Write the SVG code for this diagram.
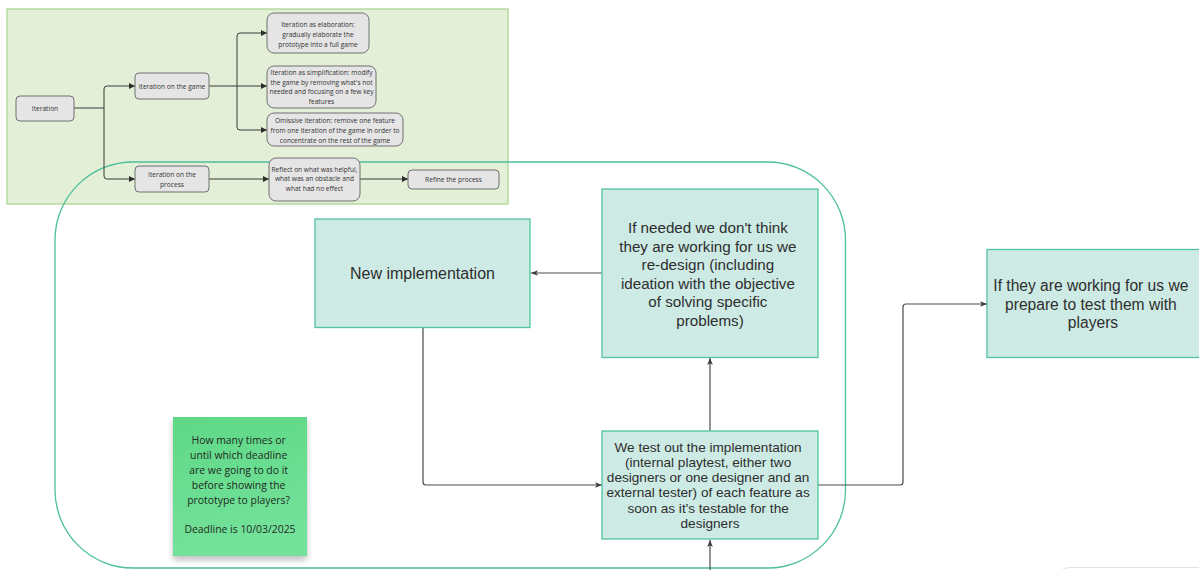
<svg xmlns="http://www.w3.org/2000/svg" width="1199" height="570" viewBox="0 0 1199 570">
  <style>
    .panel { fill: #e4efd7; stroke: #a8d28c; stroke-width: 1.2; }
    .loop { fill: none; stroke: #4cbf9c; stroke-width: 1.3; }
    .pnode { fill: #e5e5e5; stroke: #707070; stroke-width: 1; }
    .ptext { font-family: "Open Sans", "Noto Sans", sans-serif; font-size: 6.6px; fill: #333; text-anchor: middle; }
    .pline { fill: none; stroke: #3a3a3a; stroke-width: 1; }
    .box { fill: #cdeae4; stroke: #52c3a3; stroke-width: 1.3; }
    .btext { font-family: "Liberation Sans", Arial, sans-serif; fill: #2e2e2e; text-anchor: middle; }
    .mline { fill: none; stroke: #4a4a4a; stroke-width: 1.2; }
    .sticky-text { font-family: "Open Sans", "Noto Sans", sans-serif; font-size: 10.4px; fill: #1f2a22; text-anchor: middle; }
  </style>
  <defs>
    <marker id="parrow" viewBox="0 0 10 10" refX="10" refY="5" markerWidth="6" markerHeight="6" markerUnits="userSpaceOnUse" orient="auto">
      <path d="M0,0 L10,5 L0,10 z" fill="#2e2e2e"/>
    </marker>
    <marker id="marrow" viewBox="0 0 10 10" refX="10" refY="5" markerWidth="7" markerHeight="7" markerUnits="userSpaceOnUse" orient="auto">
      <path d="M0,1 L10,5 L0,9 L2.5,5 z" fill="#3a3a3a"/>
    </marker>
    <linearGradient id="stickyFill" x1="0" y1="0" x2="0.2" y2="1">
      <stop offset="0" stop-color="#5fd886"/>
      <stop offset="1" stop-color="#74e29b"/>
    </linearGradient>
    <filter id="stickyShadow" x="-20%" y="-20%" width="140%" height="150%">
      <feGaussianBlur in="SourceAlpha" stdDeviation="3"/>
      <feOffset dx="0" dy="4" result="b"/>
      <feComponentTransfer><feFuncA type="linear" slope="0.25"/></feComponentTransfer>
      <feMerge><feMergeNode/><feMergeNode in="SourceGraphic"/></feMerge>
    </filter>
  </defs>

  <rect width="1199" height="570" fill="#ffffff"/>

  <!-- iteration overview panel -->
  <rect id="iteration-panel" class="panel" x="7" y="9" width="501" height="195"/>

  <!-- iteration loop frame -->
  <rect id="iteration-loop" class="loop" x="55" y="162" width="790.5" height="406" rx="78" ry="78"/>

  <!-- faint edge of a shape at the bottom right -->
  <path d="M1063,569 Q1066,567.5 1072,567.5 H1199" fill="none" stroke="#e2e2e2" stroke-width="1"/>

  <!-- connectors -->
  <g id="connectors">
    <!-- panel -->
    <path class="pline" d="M74,108 H104 V89 Q104,86 107,86 H135" marker-end="url(#parrow)"/>
    <path class="pline" d="M104,108 V176 Q104,179 107,179 H135" marker-end="url(#parrow)"/>
    <path class="pline" d="M209,86 H237 V36 Q237,33 240,33 H267" marker-end="url(#parrow)"/>
    <path class="pline" d="M237,86 H267" marker-end="url(#parrow)"/>
    <path class="pline" d="M237,86 V127 Q237,130 240,130 H267" marker-end="url(#parrow)"/>
    <path class="pline" d="M209,179 H269" marker-end="url(#parrow)"/>
    <path class="pline" d="M360,179 H408" marker-end="url(#parrow)"/>
    <!-- main loop -->
    <path class="mline" d="M602,273 H531" marker-end="url(#marrow)"/>
    <path class="mline" d="M423,328 V482 Q423,485 426,485 H602" marker-end="url(#marrow)"/>
    <path class="mline" d="M710,431 V358" marker-end="url(#marrow)"/>
    <path class="mline" d="M710,570 V540" marker-end="url(#marrow)"/>
    <path class="mline" d="M818,485 H900 Q903,485 903,482 V307 Q903,304 906,304 H987" marker-end="url(#marrow)"/>
  </g>

  <!-- panel nodes -->
  <g id="iteration">
    <rect class="pnode" x="16" y="96" width="58" height="25" rx="4"/>
    <text class="ptext" x="45" y="110.5">Iteration</text>
  </g>
  <g id="iteration-game">
    <rect class="pnode" x="135" y="73" width="74" height="26" rx="4"/>
    <text class="ptext" x="172" y="88.5">Iteration on the game</text>
  </g>
  <g id="iteration-process">
    <rect class="pnode" x="135" y="166" width="74" height="26" rx="4"/>
    <text class="ptext" x="172" y="177">Iteration on the</text>
    <text class="ptext" x="172" y="186.5">process</text>
  </g>
  <g id="elaboration">
    <rect class="pnode" x="267" y="13" width="102" height="40" rx="7"/>
    <text class="ptext" x="318" y="26.5">Iteration as elaboration:</text>
    <text class="ptext" x="318" y="36.5">gradually elaborate the</text>
    <text class="ptext" x="318" y="46.5">prototype into a full game</text>
  </g>
  <g id="simplification">
    <rect class="pnode" x="267" y="66" width="109" height="42" rx="7"/>
    <text class="ptext" x="321.5" y="75">Iteration as simplification: modify</text>
    <text class="ptext" x="321.5" y="84.5">the game by removing what's not</text>
    <text class="ptext" x="321.5" y="94">needed and focusing on a few key</text>
    <text class="ptext" x="321.5" y="103.5">features</text>
  </g>
  <g id="omissive">
    <rect class="pnode" x="267" y="113" width="136" height="33" rx="7"/>
    <text class="ptext" x="335" y="122.5">Omissive iteration: remove one feature</text>
    <text class="ptext" x="335" y="132.5">from one iteration of the game in order to</text>
    <text class="ptext" x="335" y="142.5">concentrate on the rest of the game</text>
  </g>
  <g id="reflect">
    <rect class="pnode" x="269" y="158" width="91" height="43" rx="7"/>
    <text class="ptext" x="314.5" y="171.5">Reflect on what was helpful,</text>
    <text class="ptext" x="314.5" y="181">what was an obstacle and</text>
    <text class="ptext" x="314.5" y="190.5">what had no effect</text>
  </g>
  <g id="refine">
    <rect class="pnode" x="408" y="170" width="91" height="19" rx="4"/>
    <text class="ptext" x="453.5" y="181.5">Refine the process</text>
  </g>

  <!-- main loop nodes -->
  <g id="new-implementation">
    <rect class="box" x="315" y="219" width="215" height="108.5"/>
    <text class="btext" x="422.5" y="279" font-size="16">New implementation</text>
  </g>
  <g id="redesign">
    <rect class="box" x="602" y="189" width="216" height="168.5"/>
    <text class="btext" font-size="15.2">
      <tspan x="710" y="233">If needed we don't think</tspan>
      <tspan x="710" y="251.5">they are working for us we</tspan>
      <tspan x="710" y="270">re-design (including</tspan>
      <tspan x="710" y="288.5">ideation with the objective</tspan>
      <tspan x="710" y="307">of solving specific</tspan>
      <tspan x="710" y="325.5">problems)</tspan>
    </text>
  </g>
  <g id="internal-test">
    <rect class="box" x="602" y="431" width="216" height="108"/>
    <text class="btext" font-size="13.6">
      <tspan x="710" y="451.5">We test out the implementation</tspan>
      <tspan x="710" y="466.8">(internal playtest, either two</tspan>
      <tspan x="710" y="482.1">designers or one designer and an</tspan>
      <tspan x="710" y="497.4">external tester) of each feature as</tspan>
      <tspan x="710" y="512.7">soon as it's testable for the</tspan>
      <tspan x="710" y="528">designers</tspan>
    </text>
  </g>
  <g id="player-test">
    <rect class="box" x="987" y="249.5" width="215" height="108"/>
    <text class="btext" font-size="15.6">
      <tspan x="1093" y="291">If they are working for us we</tspan>
      <tspan x="1093" y="309.5">prepare to test them with</tspan>
      <tspan x="1093" y="328">players</tspan>
    </text>
  </g>

  <!-- sticky note -->
  <g id="deadline-note">
    <rect x="173" y="417" width="134" height="139" fill="url(#stickyFill)" filter="url(#stickyShadow)"/>
    <text class="sticky-text">
      <tspan x="240" y="444">How many times or</tspan>
      <tspan x="240" y="459">until which deadline</tspan>
      <tspan x="240" y="474">are we going to do it</tspan>
      <tspan x="240" y="489">before showing the</tspan>
      <tspan x="240" y="504">prototype to players?</tspan>
      <tspan x="240" y="533">Deadline is 10/03/2025</tspan>
    </text>
  </g>
</svg>
